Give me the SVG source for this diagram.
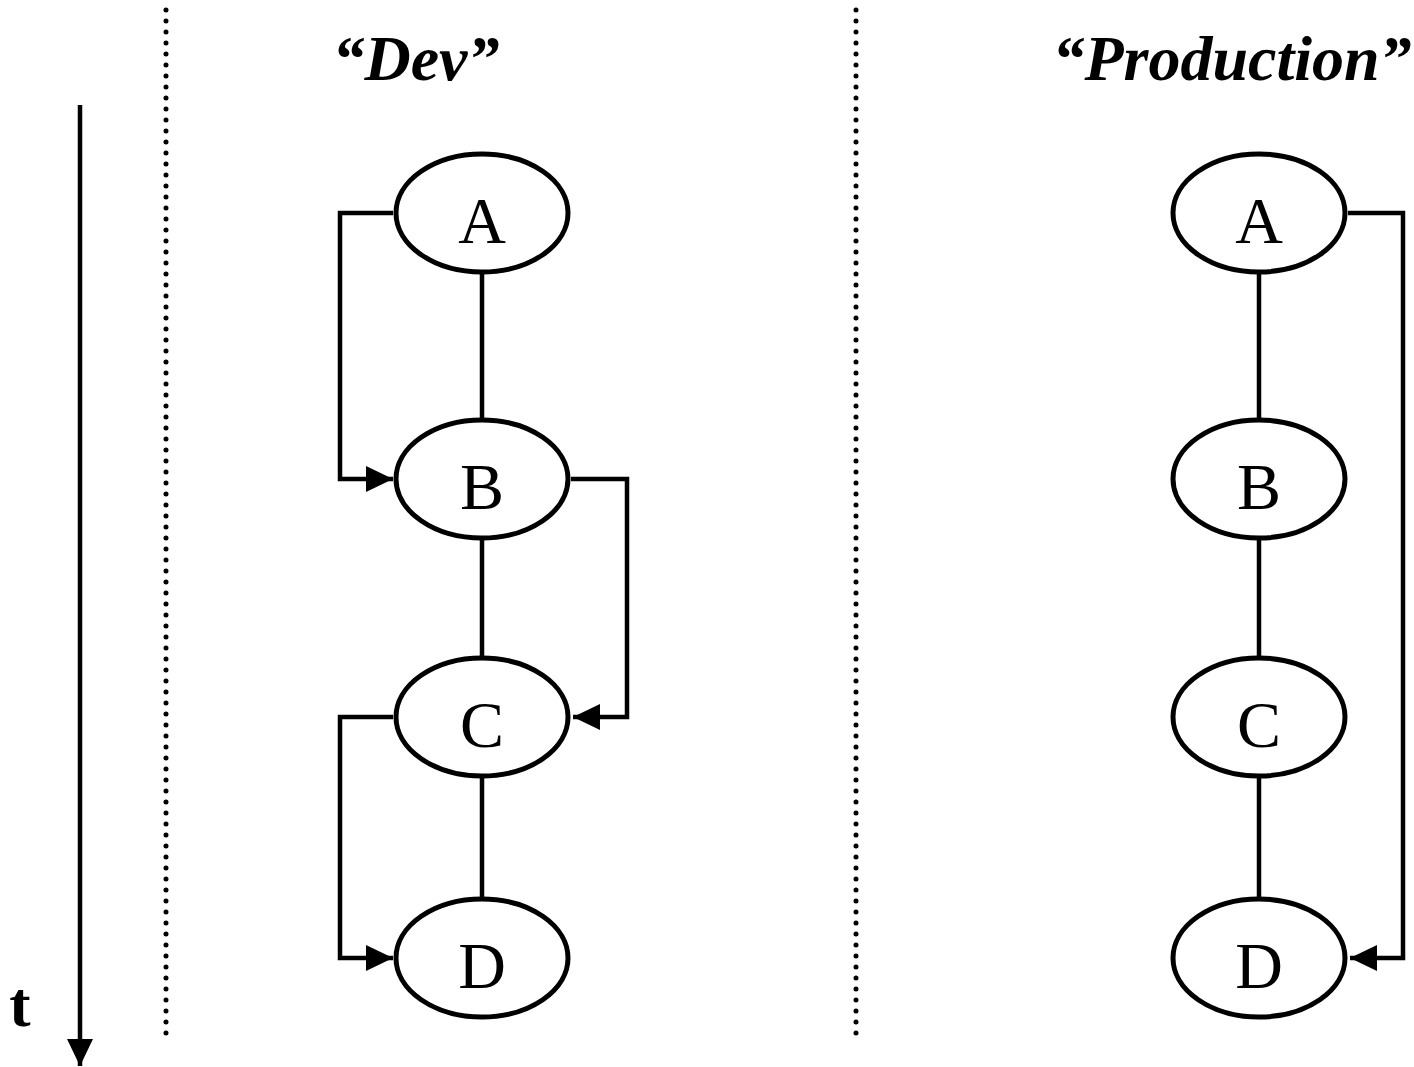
<svg xmlns="http://www.w3.org/2000/svg" width="1414" height="1067" viewBox="0 0 1414 1067">
<defs>
<style>
.node ellipse{fill:#fff;stroke:#000;stroke-width:5}
.node text{font-family:"Liberation Serif","Times New Roman",serif;font-size:66px;text-anchor:middle;fill:#000}
.conn{fill:none;stroke:#000;stroke-width:4.5}
.dots{stroke:#000;stroke-width:5;stroke-linecap:round;stroke-dasharray:0 11}
.title{font-family:"Liberation Serif","Times New Roman",serif;font-size:64px;font-weight:bold;font-style:italic;text-anchor:middle}
</style>
<marker id="ah" viewBox="0 0 27 26" refX="27" refY="13" markerWidth="27" markerHeight="26" markerUnits="userSpaceOnUse" orient="auto">
<path d="M0,0 L27,13 L0,26 Z" fill="#000"/>
</marker>
</defs>
<rect width="1414" height="1067" fill="#fff"/>
<line class="dots" x1="166" y1="10" x2="166" y2="1036"/>
<line class="dots" x1="856" y1="10" x2="856" y2="1036"/>
<text class="title" x="416" y="80">“Dev”</text>
<text class="title" x="1232" y="80">“Production”</text>
<g id="time">
<line x1="80" y1="105" x2="80" y2="1066" class="conn" marker-end="url(#ah)"/>
<text x="20" y="1026" font-family="Liberation Serif, serif" font-weight="bold" font-size="64" text-anchor="middle">t</text>
</g>
<g id="connectors">
<line class="conn" x1="482" y1="274" x2="482" y2="418"/>
<line class="conn" x1="482" y1="540" x2="482" y2="658"/>
<line class="conn" x1="482" y1="778" x2="482" y2="897"/>
<polyline class="conn" points="393,213 340,213 340,479 393,479" marker-end="url(#ah)"/>
<polyline class="conn" points="571,479 627,479 627,717 573,717" marker-end="url(#ah)"/>
<polyline class="conn" points="393,717 340,717 340,958 393,958" marker-end="url(#ah)"/>
<line class="conn" x1="1259" y1="274" x2="1259" y2="418"/>
<line class="conn" x1="1259" y1="540" x2="1259" y2="658"/>
<line class="conn" x1="1259" y1="778" x2="1259" y2="897"/>
<polyline class="conn" points="1348,213 1403,213 1403,958 1350,958" marker-end="url(#ah)"/>
</g>
<g id="dev-A" class="node"><ellipse cx="482" cy="213" rx="86" ry="59"/><text x="482" y="243">A</text></g>
<g id="dev-B" class="node"><ellipse cx="482" cy="479" rx="86" ry="59"/><text x="482" y="509">B</text></g>
<g id="dev-C" class="node"><ellipse cx="482" cy="717" rx="86" ry="59"/><text x="482" y="747">C</text></g>
<g id="dev-D" class="node"><ellipse cx="482" cy="958" rx="86" ry="59"/><text x="482" y="988">D</text></g>
<g id="prod-A" class="node"><ellipse cx="1259" cy="213" rx="86" ry="59"/><text x="1259" y="243">A</text></g>
<g id="prod-B" class="node"><ellipse cx="1259" cy="479" rx="86" ry="59"/><text x="1259" y="509">B</text></g>
<g id="prod-C" class="node"><ellipse cx="1259" cy="717" rx="86" ry="59"/><text x="1259" y="747">C</text></g>
<g id="prod-D" class="node"><ellipse cx="1259" cy="958" rx="86" ry="59"/><text x="1259" y="988">D</text></g>
</svg>
